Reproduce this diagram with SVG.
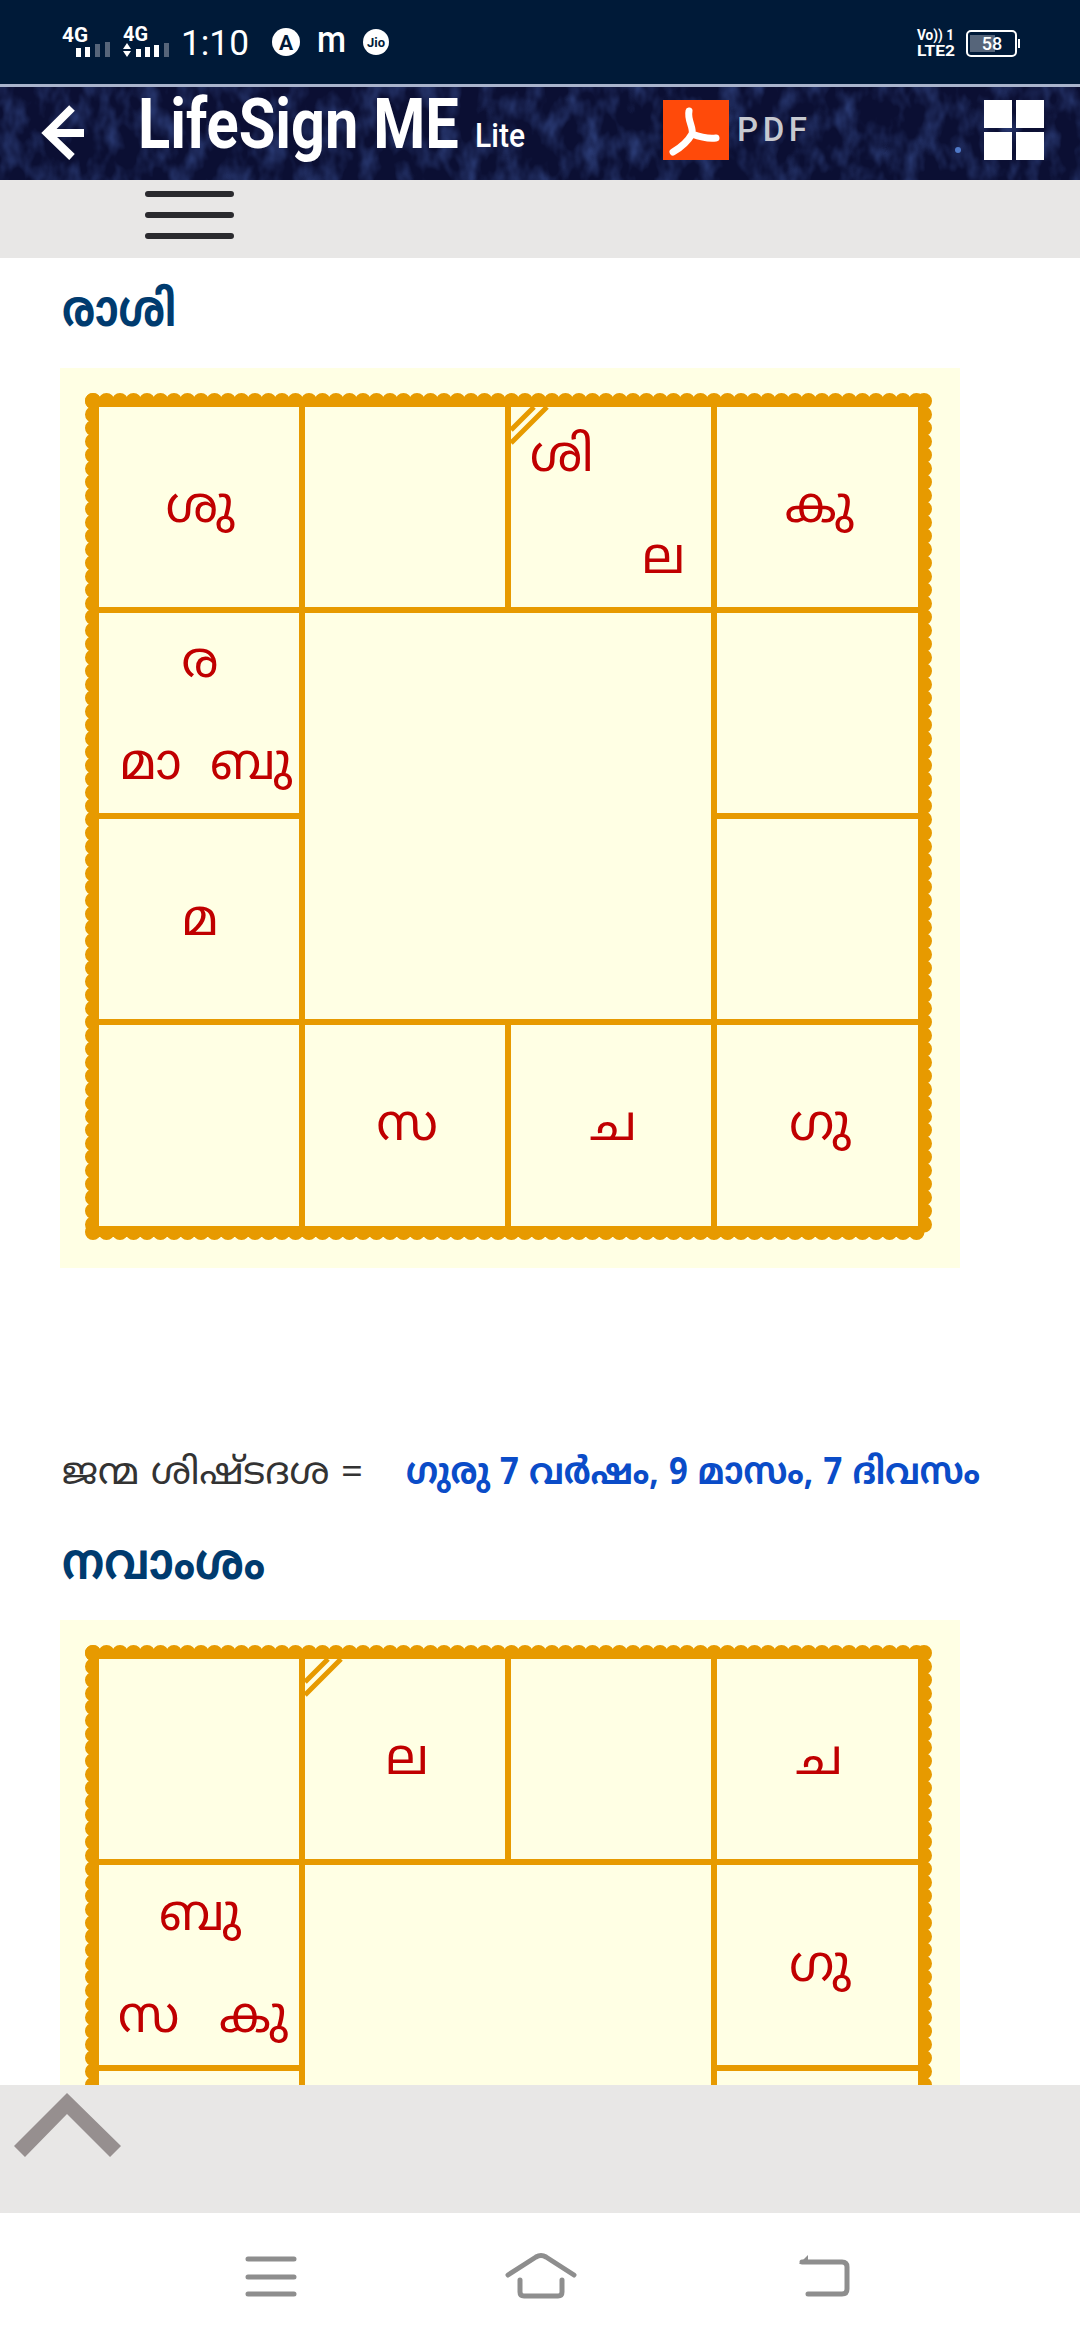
<svg xmlns="http://www.w3.org/2000/svg" width="1080" height="2340" viewBox="0 0 1080 2340">
<style>
.ml{font-family:"Noto Sans Malayalam","Noto Sans","Liberation Sans",sans-serif}
.pl{font-family:"Noto Sans Malayalam","Noto Sans","Liberation Serif",sans-serif;font-size:50px;fill:#c00000}
.m{text-anchor:middle}
.ln{stroke:#e79a00;stroke-width:6;fill:none}
.sc{stroke:#e79a00;stroke-width:16;stroke-linecap:round;stroke-dasharray:0 13.5;fill:none}
.st{font-family:"Roboto","Liberation Sans",sans-serif;fill:#fff}
.nav{stroke:#8e8e8e;stroke-width:5;fill:none;stroke-linecap:round;stroke-linejoin:round}
</style>
<defs>
<filter id="noise" x="0" y="0" width="100%" height="100%">
<feTurbulence type="fractalNoise" baseFrequency="0.05 0.03" numOctaves="3" seed="7"/>
<feColorMatrix type="matrix" values="0 0 0 0 0.06  0 0 0 0 0.12  0 0 0 0 0.42  1.2 0 0 0 -0.5"/>
</filter>
<g id="frame">
<rect x="60" y="0" width="900" height="900" fill="#ffffe4"/>
<path class="sc" d="M93 33H925"/>
<path class="sc" d="M93 33V864"/>
<path class="sc" d="M924 33V864"/>
<path class="sc" d="M93 864H925"/>
<rect x="93" y="33" width="832" height="831" fill="#e79a00"/>
<rect x="99" y="39" width="819" height="819" fill="#ffffe4"/>
<path class="ln" d="M99 242H918M99 654H918M99 448H302M714 448H918M302 39V858M714 39V858M508 39V242M508 654V858"/>
</g>
</defs>
<rect width="1080" height="2340" fill="#fff"/>

<g id="status-bar">
<rect width="1080" height="84" fill="#001a38"/>
<rect y="84" width="1080" height="3" fill="#a9b4cc"/>
<text class="st" x="62" y="42" font-size="20" font-weight="700" textLength="26" lengthAdjust="spacingAndGlyphs">4G</text>
<rect x="76" y="48" width="5" height="9" fill="#fff"/><rect x="85" y="47" width="5" height="10" fill="#fff"/><rect x="95" y="44" width="5" height="13" fill="#56657a"/><rect x="105" y="42" width="5" height="15" fill="#56657a"/>
<text class="st" x="123" y="41" font-size="20" font-weight="700" textLength="25" lengthAdjust="spacingAndGlyphs">4G</text>
<path d="M127 43l4 6h-8zM127 57l4-6h-8z" fill="#fff"/>
<rect x="136" y="49" width="5" height="8" fill="#fff"/><rect x="145" y="47" width="5" height="10" fill="#fff"/><rect x="154" y="45" width="5" height="12" fill="#fff"/><rect x="164" y="43" width="5" height="14" fill="#56657a"/>
<text class="st" x="181" y="55" font-size="35" textLength="68" lengthAdjust="spacingAndGlyphs">1:10</text>
<ellipse cx="286" cy="42" rx="14" ry="14" fill="#fff"/>
<text x="286" y="50" font-family="Roboto,sans-serif" font-size="21" font-weight="700" text-anchor="middle" fill="#001a38">A</text>
<text class="st" x="317" y="52" font-size="36" font-weight="500" textLength="29" lengthAdjust="spacingAndGlyphs">m</text>
<circle cx="376" cy="42" r="13" fill="#fff"/>
<text x="376" y="47" font-family="Roboto,sans-serif" font-size="13" font-weight="700" text-anchor="middle" fill="#001a38">Jio</text>
<text class="st" x="917" y="40" font-size="14" font-weight="700" textLength="37" lengthAdjust="spacingAndGlyphs">Vo)) 1</text>
<text class="st" x="917" y="56" font-size="14" font-weight="700" textLength="38" lengthAdjust="spacingAndGlyphs">LTE2</text>
<rect x="967" y="31" width="49" height="25" rx="4" fill="#001a38" stroke="#fff" stroke-width="2"/>
<rect x="970" y="35" width="25" height="17" fill="#56657a"/>
<rect x="1018" y="39" width="2" height="9" fill="#fff"/>
<text class="st" x="992" y="50" font-size="18" font-weight="500" text-anchor="middle">58</text>
</g>

<g id="header">
<rect y="87" width="1080" height="93" fill="#0b0f33"/>
<rect y="87" width="1080" height="93" filter="url(#noise)"/>
<circle cx="958" cy="150" r="3" fill="#4f79c8"/>
<path d="M84 133H48M72 108L47 133L72 157" fill="none" stroke="#fff" stroke-width="8"/>
<text transform="translate(138 148) scale(.85 1)" font-family="Roboto,sans-serif" font-size="70" font-weight="700" fill="#fff">LifeSign ME</text>
<text x="475" y="147" font-family="Roboto,sans-serif" font-size="33" font-weight="500" fill="#fff" textLength="50" lengthAdjust="spacingAndGlyphs">Lite</text>
<rect x="663" y="100" width="66" height="60" fill="#ff4a0a"/>
<path d="M689 111C687 120 694 128 692 134C688 141 680 148 673 152M692 134C700 137 708 139 716 138" fill="none" stroke="#fff" stroke-width="7" stroke-linecap="round"/>
<text x="737" y="141" font-family="Roboto,sans-serif" font-size="33" font-weight="500" fill="#c7c9d0" textLength="70" lengthAdjust="spacing">PDF</text>
<path d="M984 100h28v28h-28zM1016 100h28v28h-28zM984 132h28v28h-28zM1016 132h28v28h-28z" fill="#fff"/>
</g>

<g id="menu-bar">
<rect y="180" width="1080" height="78" fill="#e8e7e6"/>
<path d="M148 194H231M148 215H231M148 236H231" stroke="#2a2a2e" stroke-width="6" stroke-linecap="round"/>
</g>

<g id="rasi-heading"><text class="ml" x="62" y="326" font-size="50" font-weight="700" fill="#003b6f" textLength="114" lengthAdjust="spacingAndGlyphs">രാശി</text></g>

<g id="rasi-chart">
<use href="#frame" y="368"/>
<path class="ln" style="stroke-width:5" d="M511 443L547 407M511 430L534 407"/>
<text class="pl m" x="200" y="522">ശു</text>
<text class="pl" x="530" y="471">ശി</text>
<text class="pl" x="642" y="573">ല</text>
<text class="pl m" x="819" y="522">കു</text>
<text class="pl m" x="200" y="677">ര</text>
<text class="pl" x="120" y="779">മാ</text>
<text class="pl" x="210" y="779">ബു</text>
<text class="pl m" x="200" y="935">മ</text>
<text class="pl m" x="407" y="1140">സ</text>
<text class="pl m" x="613" y="1140">ച</text>
<text class="pl m" x="820" y="1140">ഗു</text>
</g>

<g id="dasa-line">
<text class="ml" x="62" y="1484" font-size="37" fill="#333" textLength="301" lengthAdjust="spacingAndGlyphs">ജന്മ ശിഷ്ടദശ =</text>
<text class="ml" x="406" y="1484" font-size="37" font-weight="700" fill="#0a4cc8" textLength="574" lengthAdjust="spacingAndGlyphs">ഗുരു 7 വർഷം, 9 മാസം, 7 ദിവസം</text>
</g>

<g id="navamsa-heading"><text class="ml" x="62" y="1579" font-size="50" font-weight="700" fill="#003b6f" textLength="203" lengthAdjust="spacingAndGlyphs">നവാംശം</text></g>

<g id="navamsa-chart">
<use href="#frame" y="1620"/>
<path class="ln" style="stroke-width:5" d="M305 1695L341 1659M305 1682L328 1659"/>
<text class="pl m" x="407" y="1774">ല</text>
<text class="pl m" x="819" y="1774">ച</text>
<text class="pl m" x="200" y="1930">ബു</text>
<text class="pl" x="118" y="2032">സ</text>
<text class="pl" x="219" y="2032">കു</text>
<text class="pl m" x="820" y="1981">ഗു</text>
</g>

<g id="scroll-bar">
<rect y="2085" width="1080" height="128" fill="#e8e7e6"/>
<path d="M67 2093L121 2146L110 2157L67 2114L25 2157L14 2146Z" fill="#968f8f"/>
</g>

<g id="nav-bar">
<rect y="2213" width="1080" height="127" fill="#fff"/>
<path class="nav" d="M248 2259H294M248 2277H294M248 2294H294"/>
<path class="nav" d="M508 2275L536 2257Q541 2254 546 2257L574 2275M520 2280V2292Q520 2296 524 2296H558Q562 2296 562 2292V2280"/>
<path class="nav" d="M802 2262H842Q847 2262 847 2267V2289Q847 2294 842 2294H808"/>
<path d="M799 2264L808 2255V2264Z" fill="#8e8e8e"/>
</g>
</svg>
